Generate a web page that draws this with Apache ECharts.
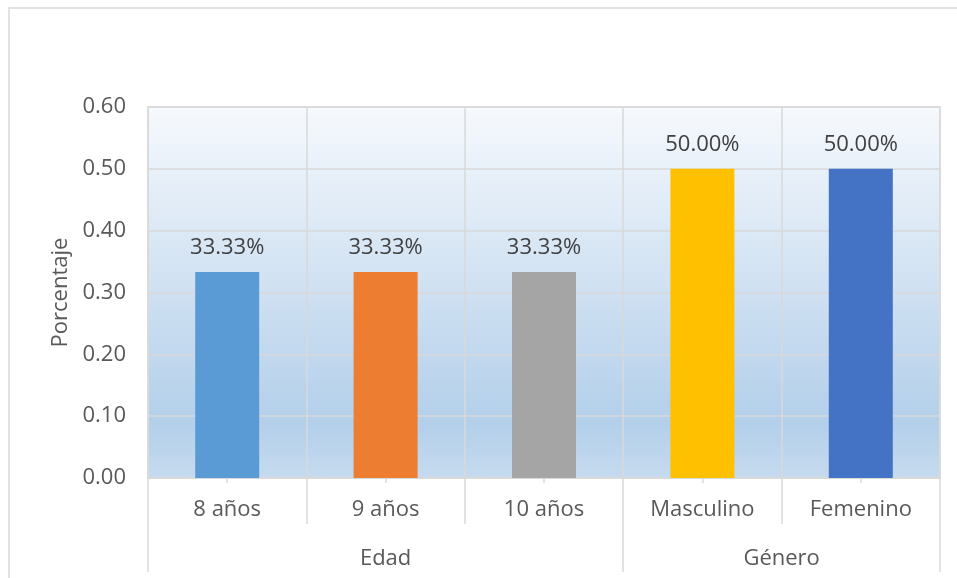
<!DOCTYPE html>
<html>
<head>
<meta charset="utf-8">
<script src="https://cdn.jsdelivr.net/npm/echarts@6/dist/echarts.min.js"></script>
<style>html,body{margin:0;padding:0;background:#fff}#c{width:957px;height:578px}</style>
</head>
<body>
<div id="c"></div>
<script>
var categories = ['8 años', '9 años', '10 años', 'Masculino', 'Femenino'];
var values = [0.3333, 0.3333, 0.3333, 0.5, 0.5];
var barColors = ['#5b9bd5', '#ed7d31', '#a5a5a5', '#ffc000', '#4472c4'];
var groups = ['Edad', 'Género'];
var groupSpans = [3, 2];
var yTicks = [0, 0.1, 0.2, 0.3, 0.4, 0.5, 0.6];

var groupBounds = [0];
var groupCenters = [];
var acc = 0;
groupSpans.forEach(function (s) { groupCenters.push(acc + s / 2); acc += s; groupBounds.push(acc); });
var innerBounds = [];
for (var i = 1; i < categories.length; i++) { if (groupBounds.indexOf(i) < 0) innerBounds.push(i); }

var FONT = '"Open Sans", sans-serif';
var FS = 22;
var GRID_C = '#d9d9d9';

var chart = echarts.init(document.getElementById('c'));
chart.setOption({
  animation: false,
  textStyle: { fontFamily: FONT },
  graphic: [{
    type: 'rect', z: -10, silent: true,
    shape: { x: 9, y: 8, width: 1200, height: 1000 },
    style: { fill: 'none', stroke: GRID_C, lineWidth: 1.5 }
  }],
  grid: {
    left: 148, right: 17, top: 107, bottom: 100,
    show: true, borderColor: GRID_C, borderWidth: 1.5,
    backgroundColor: {
      type: 'linear', x: 0, y: 0, x2: 0, y2: 1,
      colorStops: [
        { offset: 0, color: '#f6f9fd' },
        { offset: 0.85, color: '#b3cfea' },
        { offset: 1, color: '#c6dbef' }
      ]
    }
  },
  xAxis: [{
    type: 'category', data: categories, position: 'bottom',
    axisLine: { show: true, lineStyle: { color: GRID_C, width: 1.5 } },
    axisTick: { show: true, alignWithLabel: true, length: 5, lineStyle: { color: GRID_C, width: 1.5 } },
    axisLabel: { color: '#595959', fontSize: FS, margin: 21, fontFamily: FONT },
    splitLine: { show: true, lineStyle: { color: GRID_C, width: 1.5 } }
  }, {
    type: 'value', min: 0, max: categories.length, position: 'bottom',
    axisLine: { show: false },
    axisTick: { show: true, customValues: innerBounds, length: 46, lineStyle: { color: GRID_C, width: 1.5 } },
    axisLabel: { show: false },
    splitLine: { show: false }
  }, {
    type: 'value', min: 0, max: categories.length, position: 'bottom',
    axisLine: { show: false },
    axisTick: { show: true, customValues: groupBounds, length: 94, lineStyle: { color: GRID_C, width: 1.5 } },
    axisLabel: {
      show: true, customValues: groupCenters, margin: 70,
      color: '#595959', fontSize: FS, fontFamily: FONT,
      formatter: function (v) { var k = groupCenters.indexOf(v); return k >= 0 ? groups[k] : ''; }
    },
    splitLine: { show: false }
  }],
  yAxis: {
    type: 'value', min: yTicks[0], max: yTicks[yTicks.length - 1], interval: 0.1,
    name: 'Porcentaje', nameLocation: 'middle', nameGap: 74,
    nameTextStyle: { color: '#595959', fontSize: FS, fontFamily: FONT },
    axisLine: { show: false }, axisTick: { show: false },
    axisLabel: { color: '#595959', fontSize: FS, margin: 22, fontFamily: FONT,
      formatter: function (v) { return v.toFixed(2); } },
    splitLine: { show: true, lineStyle: { color: GRID_C, width: 1.5 } }
  },
  series: [{
    type: 'bar', xAxisIndex: 0, barWidth: 64,
    data: values.map(function (v, i) { return { value: v, itemStyle: { color: barColors[i] } }; }),
    label: {
      show: true, position: 'top', distance: 13, color: '#404040', fontSize: FS, fontFamily: FONT,
      formatter: function (p) { return (p.value * 100).toFixed(2) + '%'; }
    }
  }]
});
</script>
</body>
</html>
